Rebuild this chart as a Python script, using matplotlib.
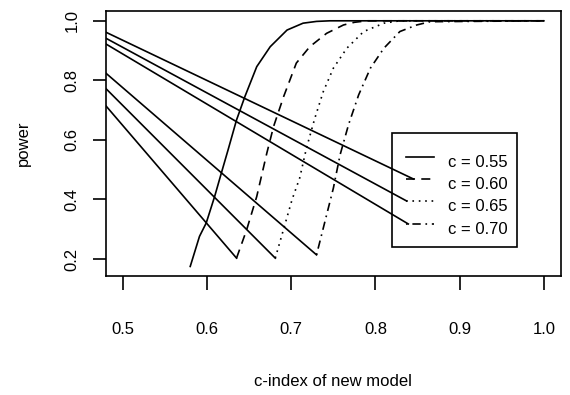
import matplotlib
matplotlib.use("Agg")
import matplotlib.pyplot as plt
from matplotlib.patches import Rectangle

plt.rcParams['font.family'] = ['Liberation Sans', 'DejaVu Sans']
plt.rcParams['lines.scale_dashes'] = False

# =========================
# Data
# =========================
labels = ["c = 0.55", "c = 0.60", "c = 0.65", "c = 0.70"]

x055 = [0.580, 0.591, 0.599, 0.609, 0.617, 0.625, 0.635, 0.645, 0.659, 0.675, 0.695, 0.714, 0.730, 0.746, 1.0]
y055 = [0.175, 0.276, 0.321, 0.410, 0.489, 0.567, 0.667, 0.746, 0.846, 0.913, 0.969, 0.992, 0.998, 1.0, 1.0]

x060 = [0.635, 0.647, 0.659, 0.671, 0.679, 0.691, 0.706, 0.722, 0.742, 0.762, 0.775, 0.790, 1.0]
y060 = [0.203, 0.298, 0.410, 0.556, 0.645, 0.746, 0.858, 0.913, 0.958, 0.986, 0.995, 1.0, 1.0]

x065 = [0.681, 0.693, 0.701, 0.710, 0.718, 0.728, 0.738, 0.750, 0.766, 0.786, 0.810, 0.829, 1.0]
y065 = [0.203, 0.321, 0.400, 0.472, 0.572, 0.673, 0.762, 0.841, 0.908, 0.964, 0.992, 1.0, 1.0]

x070 = [0.730, 0.740, 0.750, 0.758, 0.768, 0.780, 0.794, 0.810, 0.829, 0.849, 0.865, 1.0]
y070 = [0.214, 0.326, 0.438, 0.550, 0.651, 0.751, 0.841, 0.908, 0.964, 0.986, 0.997, 1.0]

# straight segments coming in from the left edge
# (to the legend samples and to the curve starts)
seg_left_x = 0.48
seg_legend_y0 = [0.9615, 0.9413, 0.922]
seg_legend_x1 = [0.845, 0.837, 0.839]
seg_curve_y0 = [0.714, 0.772, 0.8238]

curves = [(x055, y055), (x060, y060), (x065, y065), (x070, y070)]
styles = ['-', (0, (6.5, 4.5)), (0, (1.2, 3.4)), (0, (1.2, 3.4, 6, 3.4))]

# =========================
# Plot
# =========================
fig = plt.figure(figsize=(5.7, 3.95), dpi=100)
ax = fig.add_axes([0.186, 0.3013, 0.7977, 0.6709])

lw = 1.2
for (xs, ys), ls in zip(curves, styles):
    ax.plot(xs, ys, color='black', linestyle=ls, linewidth=lw)

# legend (drawn by hand, like R's legend box)
leg_x0, leg_x1 = 0.8363, 0.8696
leg_text_x = 0.8865
leg_rows = [0.5437, 0.4688, 0.3949, 0.3177]
ax.add_patch(Rectangle((0.8200, 0.2414), 0.9678 - 0.8200, 0.6223 - 0.2414,
                       fill=False, edgecolor='black', linewidth=lw))
for lab, ls, ry in zip(labels, styles, leg_rows):
    ax.plot([leg_x0, leg_x1], [ry, ry], color='black', linestyle=ls, linewidth=lw)
    ax.text(leg_text_x, ry - 0.0336, lab, fontsize=12, va='baseline', ha='left')

# lines to the legend samples
for y0, x1, ry in zip(seg_legend_y0, seg_legend_x1, leg_rows[1:]):
    ax.plot([seg_left_x, x1], [y0, ry], color='black', linewidth=lw)

# lines to the curve starts
for y0, (xs, ys) in zip(seg_curve_y0, curves[1:]):
    ax.plot([seg_left_x, xs[0]], [y0, ys[0]], color='black', linewidth=lw)

ax.set_xlim(0.48, 1.02)
ax.set_ylim(0.143, 1.033)
ax.set_xticks([0.5, 0.6, 0.7, 0.8, 0.9, 1.0])
ax.set_xticklabels(["0.5", "0.6", "0.7", "0.8", "0.9", "1.0"])
ax.set_yticks([0.2, 0.4, 0.6, 0.8, 1.0])
ax.set_yticklabels(["0.2", "0.4", "0.6", "0.8", "1.0"], rotation=90, va='center')

ax.tick_params(axis='x', length=10, width=lw, pad=23, labelsize=12)
ax.tick_params(axis='y', length=9.5, width=lw, pad=9.5, labelsize=12)
for s in ax.spines.values():
    s.set_linewidth(lw)

fig.text(0.5 * (0.186 + 0.186 + 0.7977), 1 - 382 / 395, "c-index of new model",
         fontsize=12, ha='center', va='center')
fig.text(23.3 / 570, 1 - 143.5 / 395, "power", fontsize=12, rotation=90,
         ha='center', va='center')

fig.savefig("out.png", dpi=100)
